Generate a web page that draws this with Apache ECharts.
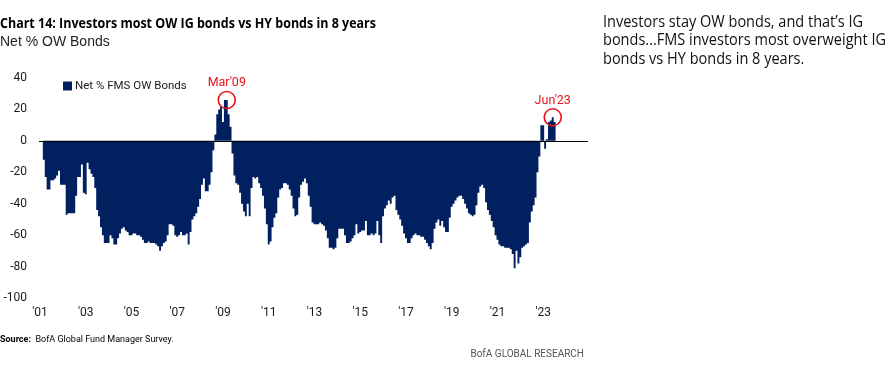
<!DOCTYPE html>
<html><head><meta charset="utf-8">
<script src="https://cdn.jsdelivr.net/npm/echarts@6/dist/echarts.min.js"></script>
<style>html,body{margin:0;padding:0;background:#fff}#c{width:894px;height:371px}</style>
</head><body><div id="c"></div>
<script>
// ---- data ----
const firstYear = 2001;
const lastYear = 2024;          // axis runs Jan 2001 .. Dec 2024
const firstDataIndex = 2;        // first value = Mar 2001
const seriesName = 'Net % FMS OW Bonds';
// Monthly net % FMS investors overweight bonds (IG vs HY), Mar 2001 .. Jul 2023
const netOW = [
  -12,-23,-31,-31,-25,-25,-24,-22,-19,-28,
  -28,-28,-47,-46,-46,-46,-46,-35,-23,-23,
  -15,-33,-34,-14,-18,-21,-23,-30,-44,-48,
  -55,-60,-65,-65,-65,-60,-62,-66,-66,-62,
  -59,-56,-55,-57,-58,-60,-60,-59,-59,-60,
  -60,-61,-63,-65,-65,-64,-65,-65,-65,-66,
  -67,-70,-67,-65,-64,-60,-53,-53,-54,-60,
  -61,-60,-58,-60,-60,-59,-66,-58,-50,-48,
  -46,-42,-37,-28,-24,-32,-32,-28,-20,-6,
  4,17,20,22,12,26,26,17,9,-8,
  -22,-27,-28,-33,-40,-45,-48,-40,-48,-30,
  -23,-24,-23,-27,-30,-35,-43,-53,-66,-64,
  -55,-49,-46,-36,-31,-30,-27,-27,-28,-31,
  -35,-43,-48,-47,-36,-28,-26,-24,-27,-35,
  -42,-52,-53,-53,-53,-52,-53,-54,-57,-62,
  -68,-68,-69,-68,-62,-56,-56,-56,-60,-65,
  -65,-64,-62,-60,-53,-59,-58,-57,-57,-51,
  -60,-60,-59,-60,-59,-51,-60,-65,-48,-43,
  -41,-38,-40,-36,-35,-44,-47,-50,-54,-59,
  -62,-65,-65,-62,-60,-59,-60,-60,-61,-61,
  -63,-65,-67,-69,-65,-56,-52,-50,-54,-51,
  -55,-58,-58,-49,-42,-40,-38,-36,-35,-35,
  -37,-40,-43,-46,-47,-48,-47,-41,-33,-29,
  -28,-30,-39,-44,-47,-51,-55,-60,-63,-66,
  -67,-67,-68,-68,-68,-69,-72,-81,-70,-78,
  -74,-68,-67,-66,-65,-52,-45,-41,-36,-20,
  -10,10,10,-5,1,12,13,15,12
];
const annotations = [
  { month: '2009-03', value: 26, label: "Mar'09" },
  { month: '2023-06', value: 15, label: "Jun'23" }
];
const yMin = -100, yMax = 40, yStep = 20;
const titleText = 'Chart 14: Investors most OW IG bonds vs HY bonds in 8 years';
const subtitleText = 'Net % OW Bonds';
const commentLines = [
  "Investors stay OW bonds, and that\u2019s IG",
  "bonds...FMS investors most overweight IG",
  "bonds vs HY bonds in 8 years."
];

// ---- build ----
const months = [];
for (let y = firstYear; y <= lastYear; y++) {
  for (let m = 1; m <= 12; m++) months.push(y + '-' + String(m).padStart(2, '0'));
}
const values = months.map((_, i) => {
  const k = i - firstDataIndex;
  return (k >= 0 && k < netOW.length) ? netOW[k] : null;
});

const AX = "Roboto,'Liberation Sans',sans-serif";
const NAVY = '#002060';
const RED = '#e8141b';

// condensed look: measure natural width and squeeze horizontally to the reference width
const mctx = document.createElement('canvas').getContext('2d');
function squeeze(text, font, target) {
  mctx.font = font;
  return Math.min(1, target / mctx.measureText(text).width);
}
const TITLE_FONT = "bold 14px 'Open Sans','Liberation Sans',sans-serif";
const COMMENT_FONT = "17px 'Open Sans','Liberation Sans',sans-serif";
const titleScale = squeeze(titleText, TITLE_FONT, 376);
const commentScale = squeeze(commentLines[1], COMMENT_FONT, 283);

const graphics = [
  { type: 'text', x: 0, y: 24, scaleX: titleScale, style: { text: titleText, font: TITLE_FONT, fill: '#000', verticalAlign: 'middle' } },
  { type: 'text', x: 0, y: 42, style: { text: subtitleText, font: "14px 'Liberation Sans','Noto Sans',sans-serif", fill: '#222', verticalAlign: 'middle' } },
  { type: 'text', x: 0, y: 340, style: {
      text: '{b|Source:}  BofA Global Fund Manager Survey.',
      rich: { b: { font: "bold 9px Roboto,'Liberation Sans',sans-serif", fill: '#000' } },
      font: "9px Roboto,'Liberation Sans',sans-serif", fill: '#000', verticalAlign: 'middle' } },
  { type: 'text', x: 584, y: 354, style: { text: 'BofA GLOBAL RESEARCH', align: 'right', verticalAlign: 'middle',
      font: "10px Roboto,'Liberation Sans',sans-serif", fill: '#555' } }
];
const commentY = [22, 40.5, 59];
commentLines.forEach((t, i) => graphics.push({
  type: 'text', x: 603, y: commentY[i], scaleX: commentScale,
  style: { text: t, font: COMMENT_FONT, fill: '#111', verticalAlign: 'middle' }
}));

const chart = echarts.init(document.getElementById('c'), null, { renderer: 'canvas' });
chart.setOption({
  animation: false,
  backgroundColor: '#fff',
  grid: { left: 39, right: 306, top: 78, bottom: 73, containLabel: false },
  legend: {
    data: [seriesName], left: 58, top: 75, icon: 'rect', itemWidth: 9, itemHeight: 9, itemGap: 4,
    textStyle: { fontFamily: AX, fontSize: 11.5, color: '#1a1a1a', padding: [0, 0, 0, -2] }
  },
  xAxis: {
    type: 'category', data: months, boundaryGap: true,
    axisLine: { show: false, onZero: false }, axisTick: { show: false }, splitLine: { show: false },
    axisLabel: {
      interval: (i) => i % 24 === 0, margin: 9,
      formatter: (v) => "'" + v.slice(2, 4),
      fontFamily: AX, fontSize: 12, color: '#1a1a1a'
    }
  },
  yAxis: {
    type: 'value', min: yMin, max: yMax, interval: yStep,
    axisLine: { show: false }, axisTick: { show: false }, splitLine: { show: false },
    axisLabel: { margin: 12, fontFamily: AX, fontSize: 12, color: '#1a1a1a' }
  },
  series: [{
    name: seriesName, type: 'bar', data: values,
    large: true, largeThreshold: 50,
    barCategoryGap: '0%',
    itemStyle: { color: NAVY },
    markLine: {
      silent: true, symbol: ['none', 'none'], label: { show: false },
      lineStyle: { color: '#000', width: 1, type: 'solid' },
      data: [{ yAxis: 0 }]
    },
    markPoint: {
      silent: true,
      data: annotations.map(a => ({
        coord: [a.month, a.value], symbol: 'circle', symbolSize: 17,
        itemStyle: { color: 'rgba(0,0,0,0)', borderColor: RED, borderWidth: 1.6 },
        label: { show: true, position: 'top', distance: 1, formatter: a.label,
                 color: RED, fontFamily: AX, fontSize: 12.5 }
      }))
    }
  }],
  graphic: graphics
});
</script></body></html>
